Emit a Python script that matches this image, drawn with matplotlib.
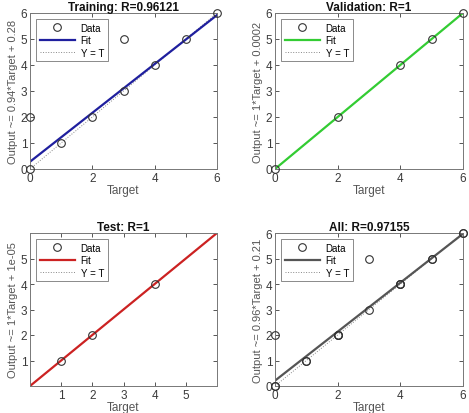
import numpy as np
import matplotlib
matplotlib.use("Agg")
import matplotlib.pyplot as plt

plt.rcParams['font.family'] = ['Liberation Sans', 'DejaVu Sans']

# training set
train_t = [0, 0, 1, 2, 3, 3, 4, 5, 6]
train_o = [0, 2, 1, 2, 3, 5, 4, 5, 6]
# validation set
val_t = [0, 2, 4, 5, 6]
val_o = [0, 2, 4, 5, 6]
# test set
test_t = [1, 2, 4]
test_o = [1, 2, 4]
# all
all_t = train_t + val_t + test_t
all_o = train_o + val_o + test_o

titles = ['Training: R=0.96121', 'Validation: R=1', 'Test: R=1', 'All: R=0.97155']
ylabels = ['Output ~= 0.94*Target + 0.28', 'Output ~= 1*Target + 0.0002',
           'Output ~= 1*Target + 1e-05', 'Output ~= 0.96*Target + 0.21']
slopes = [0.94, 1.0, 1.0, 0.96]
intercepts = [0.28, 0.0002, 1e-05, 0.21]
fit_colors = ['#1f1f9e', '#33cc33', '#cc2222', '#555555']
targets = [train_t, val_t, test_t, all_t]
outputs = [train_o, val_o, test_o, all_o]

fig = plt.figure(figsize=(4.69, 4.14), dpi=100)
W, H = 469, 414
boxes = [(30, 14, 217, 170), (275, 14, 463, 170),
         (30, 234, 217, 387), (275, 234, 463, 387)]

tc = '#3a3a3a'
for i in range(4):
    x0, y0, x1, y1 = boxes[i]
    ax = fig.add_axes([x0 / W, 1 - y1 / H, (x1 - x0) / W, (y1 - y0) / H])
    xs = np.array([0, 6])
    ax.plot(targets[i], outputs[i], 'o', mfc='none', mec='#333333', ms=5.5, mew=0.8,
            label='Data', zorder=3, clip_on=False)
    ax.plot(xs, slopes[i] * xs + intercepts[i], color=fit_colors[i], lw=1.6,
            label='Fit', zorder=2)
    ax.plot(xs, xs, ':', color='#888888', lw=0.7, label='Y = T', zorder=1)
    ax.set_xlim(0, 6)
    ax.set_ylim(0, 6)
    if i == 2:
        ax.set_xticks([1, 2, 3, 4, 5])
        ax.set_yticks([1, 2, 3, 4, 5])
    else:
        ax.set_xticks([0, 2, 4, 6])
        ax.set_yticks([0, 1, 2, 3, 4, 5, 6])
    ax.tick_params(direction='in', top=True, right=True, labelsize=8.5,
                   colors=tc, length=3, width=0.6, pad=2)
    for s in ax.spines.values():
        s.set_color('#777777')
        s.set_linewidth(0.7)
    ax.set_title(titles[i], fontsize=8.5, fontweight='bold', pad=2, color='#111111')
    ax.set_xlabel('Target', fontsize=8.5, color='#555555', labelpad=0)
    ax.set_ylabel(ylabels[i], fontsize=8, color='#555555', labelpad=2)
    leg = ax.legend(loc='upper left', fontsize=7, frameon=True, fancybox=False,
                    edgecolor='#555555', borderpad=0.4, handlelength=3.6,
                    labelspacing=0.25, borderaxespad=0.6, handletextpad=0.6)
    leg.get_frame().set_linewidth(0.6)

fig.savefig('out.png', dpi=100)
